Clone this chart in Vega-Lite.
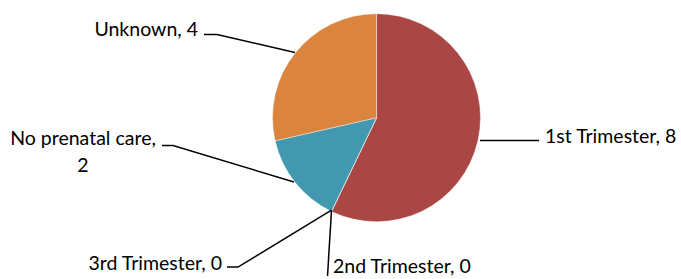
{
  "$schema": "https://vega.github.io/schema/vega-lite/v6.json",
  "width": 681,
  "height": 279,
  "autosize": {"type": "fit", "contains": "padding"},
  "padding": 0,
  "background": "white",
  "config": {"view": {"stroke": null}},
  "datasets": {
    "slices": [
      {"category": "1st Trimester", "value": 8, "idx": 1},
      {"category": "2nd Trimester", "value": 0, "idx": 2},
      {"category": "3rd Trimester", "value": 0, "idx": 3},
      {"category": "No prenatal care", "value": 2, "idx": 4},
      {"category": "Unknown", "value": 4, "idx": 5}
    ],
    "leaders": [
      {"category": "Unknown", "p": 1, "lx": 204, "ly": 35},
      {"category": "Unknown", "p": 2, "lx": 217, "ly": 35},
      {"category": "Unknown", "p": 3, "lx": 295, "ly": 53},
      {"category": "1st Trimester", "p": 1, "lx": 480, "ly": 142},
      {"category": "1st Trimester", "p": 2, "lx": 539, "ly": 142},
      {"category": "No prenatal care", "p": 1, "lx": 162, "ly": 147},
      {"category": "No prenatal care", "p": 2, "lx": 173, "ly": 147},
      {"category": "No prenatal care", "p": 3, "lx": 294, "ly": 184},
      {"category": "3rd Trimester", "p": 1, "lx": 227, "ly": 270},
      {"category": "3rd Trimester", "p": 2, "lx": 238, "ly": 270},
      {"category": "3rd Trimester", "p": 3, "lx": 331.5, "ly": 212.5},
      {"category": "2nd Trimester", "p": 1, "lx": 331.5, "ly": 212.5},
      {"category": "2nd Trimester", "p": 2, "lx": 327.5, "ly": 279}
    ],
    "labels": [
      {"label": "Unknown, 4", "tx": 198, "ty": 36, "side": "right"},
      {"label": "3rd Trimester, 0", "tx": 222, "ty": 272.5, "side": "right"},
      {"label": "1st Trimester, 8", "tx": 545, "ty": 145, "side": "left"},
      {"label": "2nd Trimester, 0", "tx": 333, "ty": 275.5, "side": "left"},
      {"label": "No prenatal care,\n2", "tx": 83, "ty": 147, "side": "center"}
    ]
  },
  "layer": [
    {
      "data": {"name": "slices"},
      "mark": {"type": "arc", "outerRadius": 104, "stroke": "white", "strokeWidth": 0.4},
      "encoding": {
        "theta": {"field": "value", "type": "quantitative", "stack": true},
        "order": {"field": "idx", "type": "quantitative"},
        "color": {
          "field": "category",
          "type": "nominal",
          "legend": null,
          "scale": {
            "domain": ["1st Trimester", "2nd Trimester", "3rd Trimester", "No prenatal care", "Unknown"],
            "range": ["#AA4643", "#89A54E", "#71588F", "#4198AF", "#DB843D"]
          }
        },
        "x": {"datum": 376.5, "type": "quantitative", "scale": {"domain": [0, 681], "nice": false, "zero": false}, "axis": null},
        "y": {"datum": 119, "type": "quantitative", "scale": {"domain": [0, 279], "nice": false, "zero": false, "reverse": true}, "axis": null}
      }
    },
    {
      "data": {"name": "leaders"},
      "mark": {"type": "line", "color": "black", "strokeWidth": 1.5},
      "encoding": {
        "x": {"field": "lx", "type": "quantitative"},
        "y": {"field": "ly", "type": "quantitative"},
        "detail": {"field": "category"},
        "order": {"field": "p", "type": "quantitative"}
      }
    },
    {
      "data": {"name": "labels"},
      "transform": [{"filter": "datum.side == 'right'"}],
      "mark": {"type": "text", "align": "right", "baseline": "alphabetic", "font": "Lato", "fontSize": 19.5, "color": "black"},
      "encoding": {
        "x": {"field": "tx", "type": "quantitative"},
        "y": {"field": "ty", "type": "quantitative"},
        "text": {"field": "label"}
      }
    },
    {
      "data": {"name": "labels"},
      "transform": [{"filter": "datum.side == 'left'"}],
      "mark": {"type": "text", "align": "left", "baseline": "alphabetic", "font": "Lato", "fontSize": 19.5, "color": "black"},
      "encoding": {
        "x": {"field": "tx", "type": "quantitative"},
        "y": {"field": "ty", "type": "quantitative"},
        "text": {"field": "label"}
      }
    },
    {
      "data": {"name": "labels"},
      "transform": [{"filter": "datum.side == 'center'"}],
      "mark": {"type": "text", "align": "center", "baseline": "alphabetic", "font": "Lato", "fontSize": 19.5, "color": "black", "lineBreak": "\n", "lineHeight": 27},
      "encoding": {
        "x": {"field": "tx", "type": "quantitative"},
        "y": {"field": "ty", "type": "quantitative"},
        "text": {"field": "label"}
      }
    }
  ]
}
